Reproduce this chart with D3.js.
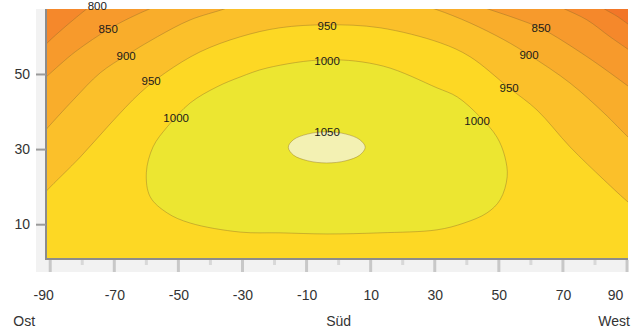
<!DOCTYPE html>
<html><head><meta charset="utf-8">
<script src="https://cdn.jsdelivr.net/npm/d3@7"></script>
<style>html,body{margin:0;padding:0;background:#fff;overflow:hidden}</style>
</head><body><svg id="c" width="637" height="329"></svg>
<script>
// ---- data (azimuth in degrees, tilt in degrees) ----
const xTicks = [-90, -70, -50, -30, -10, 10, 30, 50, 70, 90];
const xMinorTicks = [-80, -60, -40, -20, 0, 20, 40, 60, 80];
const yTicks = [10, 30, 50];
const directions = [["Ost", -90], ["Süd", 0], ["West", 90]];
const levels = [750, 800, 850, 900, 950, 1000, 1050];

// isolines: [azimuth, tilt]
const iso750 = [
  [[80.3, 69.0], [82.8, 67.4], [87.2, 65.2], [90.6, 63.1], [94.0, 61.2]]
];
const iso800 = [
  [[-93.1, 56.3], [-90.9, 58.3], [-85.3, 62.6], [-78.5, 67.4], [-75.3, 69.5]],
  [[66.0, 69.2], [70.3, 67.4], [77.5, 64.4], [84.7, 59.9], [90.6, 56.4], [94.0, 54.3]]
];
const iso850 = [
  [[-93.1, 47.9], [-90.9, 49.5], [-82.2, 55.9], [-71.6, 62.0], [-65.0, 65.0], [-58.8, 67.4], [-54.0, 69.0]],
  [[41.0, 69.0], [46.3, 67.4], [56.6, 64.4], [63.5, 62.0], [77.5, 54.6], [90.6, 46.6], [94.0, 44.4]]
];
const iso900 = [
  [[-93.1, 33.5], [-90.9, 35.6], [-82.8, 43.1], [-74.4, 50.3], [-66.0, 55.1], [-56.6, 59.9], [-46.3, 64.4], [-35.4, 67.4], [-30.7, 69.0]],
  [[25.4, 68.4], [30.7, 67.1], [41.0, 63.6], [51.6, 59.1], [59.4, 55.1], [72.2, 47.6], [82.8, 39.6], [90.6, 33.0], [94.0, 30.6]]
];
const iso950 = [
  [[-93.1, 17.0], [-90.9, 19.1], [-80.6, 27.9], [-71.3, 36.7], [-61.9, 45.0], [-54.1, 50.3],
   [-43.2, 55.9], [-30.7, 59.9], [-18.3, 62.3], [-3.6, 63.1], [12.9, 62.3], [31.7, 58.3], [41.0, 54.6],
   [53.2, 46.3], [61.9, 40.4], [72.2, 30.6], [82.8, 21.8], [90.6, 15.7], [94.0, 13.5]]
];
const iso1000 = [
  [-3.6, 53.8], [13.9, 52.1], [30.7, 46.3], [37.0, 43.9], [44.1, 38.6], [49.4, 33.2], [51.9, 27.9],
  [52.6, 22.6], [50.4, 16.5], [46.3, 13.0], [39.1, 10.3], [30.7, 8.5], [12.9, 7.7], [-3.6, 7.4],
  [-18.3, 7.7], [-30.7, 7.9], [-46.3, 10.3], [-53.5, 13.0], [-58.8, 17.3], [-60.0, 23.7], [-57.9, 30.6],
  [-53.5, 35.9], [-46.3, 42.3], [-37.9, 46.6], [-30.7, 49.2], [-22.3, 51.6]
];
const iso1050 = [
  [8.3, 30.5], [6.6, 32.5], [2.3, 34.0], [-3.7, 34.6], [-9.7, 34.0], [-14.1, 32.5],
  [-15.7, 30.5], [-14.1, 28.4], [-9.7, 26.9], [-3.7, 26.3], [2.3, 26.9], [6.6, 28.4]
];
// contour labels: [value, azimuth, tilt]
const contourLabels = [
  [800, -75.3, 68.0], [850, -71.9, 62.0], [900, -66.3, 54.8], [950, -58.5, 48.2], [1000, -50.7, 38.3],
  [950, -3.6, 62.8], [1000, -3.6, 53.5], [1050, -3.6, 34.6],
  [850, 63.2, 62.3], [900, 59.4, 55.1], [950, 53.2, 46.3], [1000, 43.2, 37.5]
];

// ---- styles ----
const bandColors = ["#F27628", "#F5882B", "#F79A2C", "#F9AD2B", "#FBC02A", "#FDD824", "#ECE631", "#F3F1B3"];
const FONT = "'Liberation Sans', Arial, Helvetica, sans-serif";

const svg = d3.select("#c");
const x = d3.scaleLinear([-91, 90.3], [47, 628]);
const y = d3.scaleLinear([1, 67.3], [258, 9]);
const [X0, X1] = x.range();
const [Yb, Yt] = y.range();

// dithered shadow bands
svg.append("rect").attr("x", X0 - 11).attr("y", Yt).attr("width", 11).attr("height", Yb - Yt + 14).attr("fill", "#f2f2f2");
svg.append("rect").attr("x", X0 - 11).attr("y", Yb).attr("width", X1 - X0 + 11).attr("height", 14).attr("fill", "#f2f2f2");

svg.append("defs").append("clipPath").attr("id", "plotClip")
  .append("rect").attr("x", X0).attr("y", Yt).attr("width", X1 - X0).attr("height", Yb - Yt);

const g = svg.append("g").attr("clip-path", "url(#plotClip)");
g.append("rect").attr("x", X0).attr("y", Yt).attr("width", X1 - X0).attr("height", Yb - Yt).attr("fill", bandColors[0]);

const openLine = d3.line().x(d => x(d[0])).y(d => y(d[1])).curve(d3.curveCatmullRom.alpha(0.5));
const closedLine = d3.line().x(d => x(d[0])).y(d => y(d[1])).curve(d3.curveCatmullRomClosed.alpha(0.5));

function openFill(segs) {
  let d = "";
  const first = segs[0][0];
  const lastSeg = segs[segs.length - 1];
  const last = lastSeg[lastSeg.length - 1];
  if (first[0] > -90) d += `M${x(-95)},${y(72)}`;
  segs.forEach(s => {
    const p = openLine(s);
    d += d ? "L" + p.slice(1) : p;
  });
  if (last[0] < 90) d += `L${x(95)},${y(72)}`;
  d += `L${x(95)},${y(-3)}L${x(-95)},${y(-3)}Z`;
  return d;
}

const openSets = [iso750, iso800, iso850, iso900, iso950];
const closedSets = [iso1000, iso1050];

openSets.forEach((segs, i) => {
  g.append("path").attr("d", openFill(segs)).attr("fill", bandColors[i + 1]);
});
closedSets.forEach((ring, i) => {
  g.append("path").attr("d", closedLine(ring)).attr("fill", bandColors[i + 6]);
});

const strokeCol = "#8a6a2a";
openSets.forEach(segs => segs.forEach(s => {
  g.append("path").attr("d", openLine(s)).attr("fill", "none")
    .attr("stroke", strokeCol).attr("stroke-opacity", 0.45).attr("stroke-width", 0.9);
}));
closedSets.forEach(ring => {
  g.append("path").attr("d", closedLine(ring)).attr("fill", "none")
    .attr("stroke", strokeCol).attr("stroke-opacity", 0.45).attr("stroke-width", 0.9);
});

// contour labels
svg.append("g").selectAll("text").data(contourLabels).join("text")
  .attr("x", d => x(d[1])).attr("y", d => y(d[2]))
  .attr("text-anchor", "middle").attr("dominant-baseline", "central")
  .attr("font-family", FONT).attr("font-size", 11.5).attr("fill", "#1a1a1a")
  .text(d => d[0]);

// plot border (left + bottom)
svg.append("line").attr("x1", X0 - 1).attr("x2", X0 - 1).attr("y1", Yt).attr("y2", Yb + 1)
  .attr("stroke", "#8c8c8c").attr("stroke-width", 2);
svg.append("line").attr("x1", X0 - 2).attr("x2", X1).attr("y1", Yb + 1).attr("y2", Yb + 1)
  .attr("stroke", "#8c8c8c").attr("stroke-width", 2);

// bottom tick marks
svg.append("g").selectAll("line").data(xTicks).join("line")
  .attr("x1", d => x(d)).attr("x2", d => x(d)).attr("y1", Yb + 2).attr("y2", Yb + 14)
  .attr("stroke", "#c8c8c8").attr("stroke-width", 3);
svg.append("g").selectAll("line").data(xMinorTicks).join("line")
  .attr("x1", d => x(d)).attr("x2", d => x(d)).attr("y1", Yb + 2).attr("y2", Yb + 7)
  .attr("stroke", "#d8d8d8").attr("stroke-width", 3);

// y axis
const yAxis = svg.append("g").attr("transform", `translate(${X0 - 1},0)`)
  .call(d3.axisLeft(y).tickValues(yTicks).tickSize(10).tickPadding(6).tickFormat(d => String(d)));
yAxis.select(".domain").remove();
yAxis.selectAll(".tick line").attr("stroke", "#9a9a9a").attr("stroke-width", 2);
yAxis.selectAll(".tick text").attr("font-family", FONT).attr("font-size", 14).attr("fill", "#333");

// x axis labels (plain hyphen minus as in the reference)
const xAxis = svg.append("g").attr("transform", `translate(0,${Yb})`)
  .call(d3.axisBottom(x).tickValues(xTicks).tickSize(0).tickPadding(32).tickFormat(d => String(d)));
xAxis.select(".domain").remove();
xAxis.selectAll(".tick text").attr("font-family", FONT).attr("font-size", 14).attr("fill", "#333")
  .attr("dx", d => d === -90 ? -7 : d === 90 ? -12 : 0);

// direction titles
svg.append("g").selectAll("text").data(directions).join("text")
  .attr("x", d => x(d[1])).attr("y", 326)
  .attr("dx", d => d[1] === -90 ? -26 : d[1] === 90 ? -13 : 0)
  .attr("text-anchor", "middle").attr("font-family", FONT).attr("font-size", 14).attr("fill", "#333")
  .text(d => d[0]);
</script></body></html>
